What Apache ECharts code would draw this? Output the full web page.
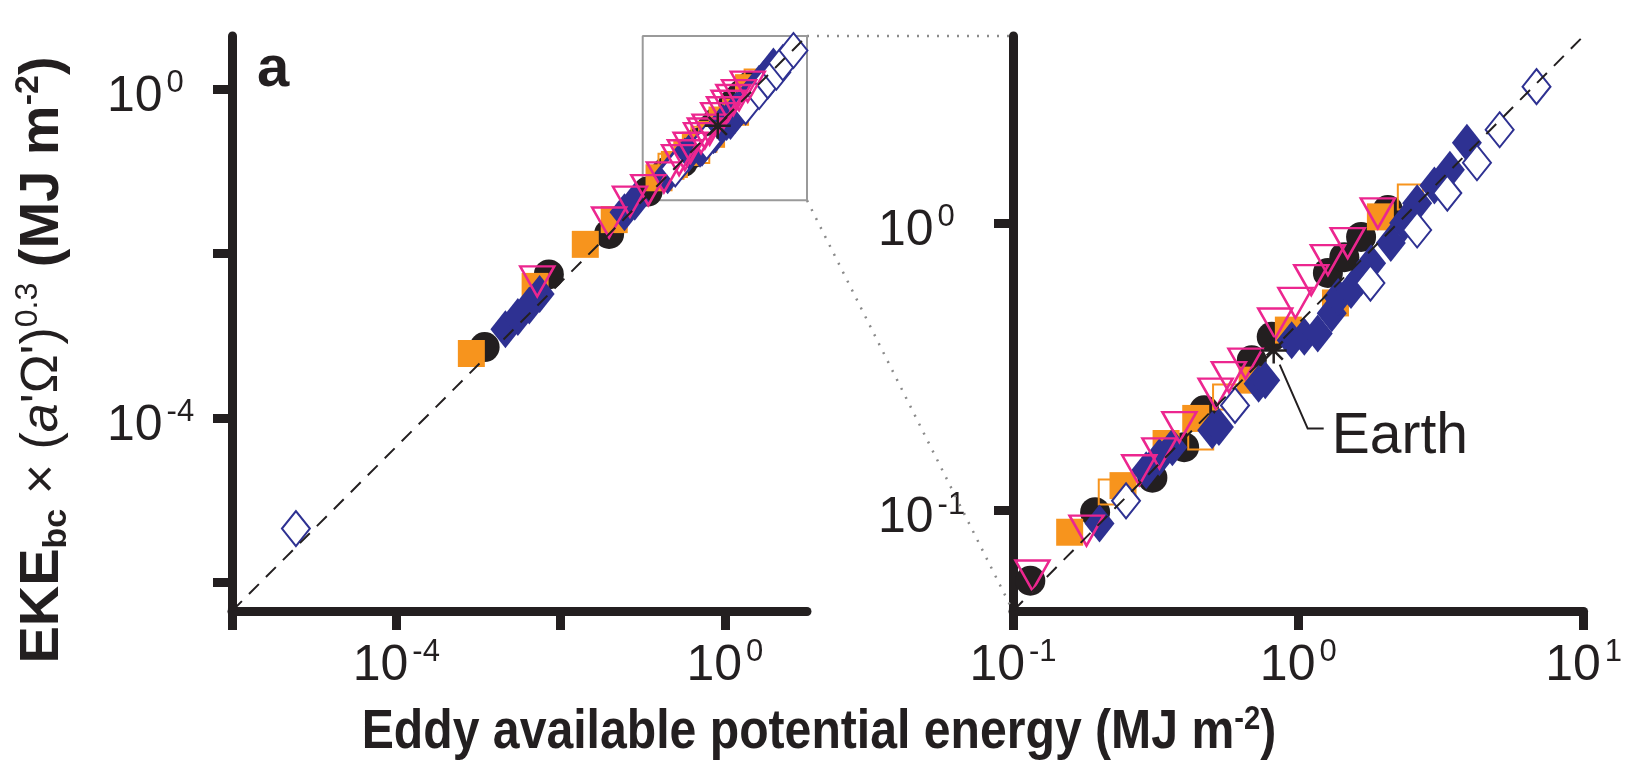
<!DOCTYPE html>
<html lang="en">
<head>
<meta charset="UTF-8">
<title>EKE vs eddy APE</title>
<script src="https://cdn.jsdelivr.net/npm/echarts@6.0.0/dist/echarts.min.js"></script>
<style>
html, body { margin: 0; padding: 0; background: #fff; }
#chart { width: 1625px; height: 777px; }
</style>
</head>
<body>
<div id="chart"></div>
<script>
// axis ranges, MJ m^-2 (y is shifted by ~0.45 from x)
var leftX = [1e-6, 10];
var leftY = [4.47e-7, 4.47];
var rightX = [0.1, 10];
var rightY = [0.0447, 4.47];
var leftTicks = [1e-6, 1e-4, 1e-2, 1];
var leftLabels = [1e-4, 1];
var rightXTicks = [0.1, 1, 10];
var rightYTicks = [0.1, 1];

// [eddy APE, EKE_bc * (a'Omega')^0.3]
var blackCircles = [
    [1.19e-3, 7.3e-4], [7.2e-3, 5.6e-3], [0.039, 0.0174],
    [0.115, 0.057], [0.194, 0.0986], [0.308, 0.130], [0.398, 0.166],
    [0.468, 0.223], [0.687, 0.333], [0.807, 0.402], [1.27, 0.67],
    [1.45, 0.76], [1.66, 0.894], [2.06, 1.11]
];
var orangeSquares = [
    [8.2e-4, 6.1e-4], [4.9e-3, 4.0e-3], [0.020, 0.013], [0.045, 0.026],
    [0.158, 0.084], [0.243, 0.122], [0.344, 0.171], [0.437, 0.209],
    [0.689, 0.284], [0.923, 0.424], [1.35, 0.527], [1.94, 1.05]
];
var orangeOpen = [
    [0.221, 0.116], [0.455, 0.180], [0.556, 0.248], [2.47, 1.23]
];
var blueDiamonds = [
    [2.13e-3, 1.20e-3], [3.02e-3, 1.70e-3], [4.16e-3, 2.34e-3], [5.56e-3, 3.23e-3],
    [0.060, 0.032], [0.080, 0.043], [0.201, 0.090], [0.293, 0.138],
    [0.326, 0.153], [0.362, 0.166], [0.499, 0.190], [0.527, 0.195],
    [0.726, 0.276], [0.766, 0.284], [0.948, 0.391], [1.05, 0.402],
    [1.17, 0.413], [1.31, 0.485], [1.38, 0.553], [1.53, 0.585],
    [1.66, 0.648], [1.80, 0.724], [2.11, 0.851], [2.35, 1.0],
    [2.61, 1.17], [3.0, 1.35], [3.40, 1.53], [3.90, 1.90]
];
var blueOpen = [
    [6.0e-6, 4.5e-6], [0.249, 0.108], [0.60, 0.232], [1.79, 0.618],
    [2.61, 0.945], [3.33, 1.27], [4.23, 1.62], [5.08, 2.11], [6.84, 2.98]
];
var magentaTriangles = [
    [5.2e-3, 4.6e-3], [0.039, 0.024], [0.070, 0.043], [0.117, 0.0594],
    [0.181, 0.0851], [0.277, 0.138], [0.326, 0.158], [0.383, 0.195],
    [0.513, 0.255], [0.571, 0.291], [0.653, 0.324], [0.830, 0.447],
    [0.977, 0.527], [1.11, 0.633], [1.27, 0.743], [1.49, 0.851], [1.90, 1.08]
];
var earth = [[0.82, 0.36]];

var ink = '#231f20';
var sans = "'Liberation Sans', Arial, sans-serif";

var chart = echarts.init(document.getElementById('chart'));

function powLabel(v) {
    var e = Math.round(Math.log10(v));
    return '{b|10}{e|' + e + '}';
}

var labelRich = {
    b: { fontFamily: sans, fontSize: 50, color: ink, lineHeight: 58 },
    e: { fontFamily: sans, fontSize: 31, color: ink, lineHeight: 31, verticalAlign: 'top', padding: [0, 0, 0, 4] }
};

function axis(grid, dim, range, ticks, labels, margin) {
    var a = {
        type: 'log', logBase: 10, gridIndex: grid,
        min: range[0], max: range[1],
        axisLine: { show: true, onZero: false, lineStyle: { color: ink, width: 9 } },
        axisTick: { show: true, inside: false, length: 19, customValues: ticks, lineStyle: { color: ink, width: 9 } },
        axisLabel: { customValues: labels, formatter: powLabel, rich: labelRich, margin: margin },
        splitLine: { show: false },
        minorTick: { show: false }
    };
    if (dim === 'y') {
        a.axisLabel.align = 'left';
        a.axisLabel.padding = [16, 0, 0, 0];
    }
    return a;
}

var marks = [
    { data: blackCircles, symbol: 'circle', size: 30, style: { color: ink } },
    { data: orangeSquares, symbol: 'rect', size: 27, style: { color: '#f7941d' } },
    { data: orangeOpen, symbol: 'rect', size: 25, style: { color: 'rgba(0,0,0,0)', borderColor: '#f7941d', borderWidth: 2 } },
    { data: blueDiamonds, symbol: 'diamond', size: [30, 38], style: { color: '#2e3192' } },
    { data: blueOpen, symbol: 'diamond', size: [28, 35], style: { color: '#fff', borderColor: '#2e3192', borderWidth: 2 } },
    { data: magentaTriangles, symbol: 'triangle', size: [34, 30], rotate: 180, style: { color: 'rgba(0,0,0,0)', borderColor: '#ec268f', borderWidth: 2.5 } },
    { data: earth, symbol: 'path://M0,-10L0,10M-10,0L10,0M-7,-7L7,7M-7,7L7,-7', size: 26, style: { color: 'rgba(0,0,0,0)', borderColor: ink, borderWidth: 2.5 } }
];

var series = [];
[0, 1].forEach(function (g) {
    marks.forEach(function (m, i) {
        m.style.opacity = 1;
        series.push({
            type: 'scatter', xAxisIndex: g, yAxisIndex: g,
            data: m.data, symbol: m.symbol, symbolSize: m.size, symbolRotate: m.rotate || 0,
            itemStyle: m.style, clip: true, z: 3 + i * 0.1, silent: true
        });
    });
});

var xr = [leftX, rightX], yr = [leftY, rightY];
[0, 1].forEach(function (g) {
    // dashed reference line across each panel
    series.push({
        type: 'line', xAxisIndex: g, yAxisIndex: g, symbol: 'none', z: 5, silent: true,
        data: [[xr[g][0], yr[g][0]], [xr[g][1], yr[g][1]]],
        lineStyle: { color: ink, width: 2, type: [14, 10] }
    });
});
// inset box marking the zoomed region
series.push({
    type: 'line', xAxisIndex: 0, yAxisIndex: 0, symbol: 'none', z: 2, clip: false, silent: true,
    data: [[rightX[0], rightY[0]], [rightX[1], rightY[0]], [rightX[1], rightY[1]], [rightX[0], rightY[1]], [rightX[0], rightY[0]]],
    lineStyle: { color: '#9a9a9a', width: 2 }
});

chart.setOption({
    animation: false,
    grid: [
        { left: 232, top: 36, width: 575, height: 575 },
        { left: 1013, top: 36, width: 575, height: 575 }
    ],
    xAxis: [
        axis(0, 'x', leftX, leftTicks, leftLabels, 26),
        axis(1, 'x', rightX, rightXTicks, rightXTicks, 26)
    ],
    yAxis: [
        axis(0, 'y', leftY, leftTicks, leftLabels, 125),
        axis(1, 'y', rightY, rightYTicks, rightYTicks, 135)
    ],
    series: series
});

// connectors, labels and titles positioned from the axes
var boxTop = chart.convertToPixel({ gridIndex: 0 }, [rightX[1], rightY[1]]);
var boxBot = chart.convertToPixel({ gridIndex: 0 }, [rightX[1], rightY[0]]);
var rTop = chart.convertToPixel({ gridIndex: 1 }, [rightX[0], rightY[1]]);
var rBot = chart.convertToPixel({ gridIndex: 1 }, [rightX[0], rightY[0]]);
var ep = chart.convertToPixel({ gridIndex: 1 }, earth[0]);

var dotted = { stroke: '#8a8a8a', lineWidth: 2.5, lineDash: [2, 8], fill: null };

chart.setOption({
    graphic: [
        { type: 'polyline', shape: { points: [boxTop, rTop] }, style: dotted, z: 1 },
        { type: 'polyline', shape: { points: [boxBot, rBot] }, style: dotted, z: 1 },
        { type: 'polyline', z: 10, shape: { points: [[ep[0] + 6, ep[1] + 14], [ep[0] + 34, ep[1] + 78], [ep[0] + 50, ep[1] + 78]] },
          style: { stroke: ink, lineWidth: 2, fill: null } },
        { type: 'text', x: ep[0] + 58, y: ep[1] + 87, z: 10,
          style: { text: 'Earth', font: '57px ' + sans, fill: ink, align: 'left', verticalAlign: 'middle' } },
        { type: 'text', x: 257, y: 70, z: 10,
          style: { text: 'a', font: 'bold 58px ' + sans, fill: ink, align: 'left', verticalAlign: 'middle' } },
        { type: 'text', x: 819, y: 733, z: 10, scaleX: 0.86,
          style: {
              text: '{t|Eddy available potential energy (MJ m}{s|-2}{t|)}',
              align: 'center', verticalAlign: 'middle',
              rich: {
                  t: { font: 'bold 56px ' + sans, fill: ink, lineHeight: 60 },
                  s: { font: 'bold 34px ' + sans, fill: ink, lineHeight: 34, verticalAlign: 'top' }
              }
          } },
        { type: 'text', x: 43, y: 360, rotation: Math.PI / 2, z: 10,
          style: {
              text: '{t|EKE}{sub|bc}{n| \u00d7 (}{i|a}{n|\'\u03a9\')}{sup|0.3}{t| (MJ m}{s|-2}{t|)}',
              align: 'center', verticalAlign: 'middle',
              rich: {
                  t: { font: 'bold 56px ' + sans, fill: ink, lineHeight: 62 },
                  sub: { font: 'bold 34px ' + sans, fill: ink, lineHeight: 34, verticalAlign: 'bottom' },
                  n: { font: '52px ' + sans, fill: ink, lineHeight: 62 },
                  i: { font: 'italic 52px ' + sans, fill: ink, lineHeight: 62 },
                  sup: { font: '32px ' + sans, fill: ink, lineHeight: 32, verticalAlign: 'top' },
                  s: { font: 'bold 34px ' + sans, fill: ink, lineHeight: 34, verticalAlign: 'top' }
              }
          } }
    ]
});
</script>
</body>
</html>
